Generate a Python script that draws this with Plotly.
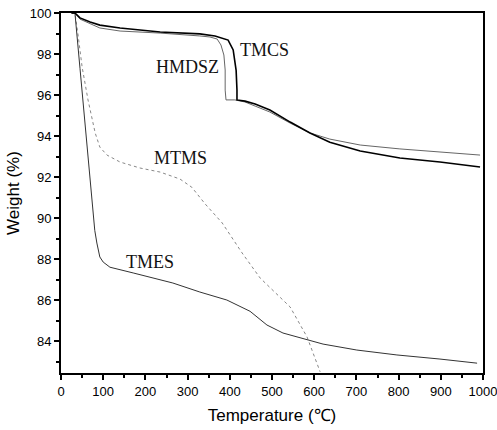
import plotly.graph_objects as go

# Temperature (°C) and weight (%)
tmcs_t = [25, 33, 45, 69, 92, 140, 235, 329, 365, 396, 408, 415, 417, 417, 436, 460, 495, 543, 590, 637, 709, 803, 898, 957, 993]
tmcs_w = [100, 100, 99.76, 99.56, 99.41, 99.27, 99.07, 98.98, 98.88, 98.68, 98.2, 97.2, 96.24, 95.76, 95.7, 95.56, 95.27, 94.68, 94.15, 93.7, 93.27, 92.93, 92.73, 92.59, 92.49]

hmdsz_t = [25, 33, 45, 69, 92, 140, 235, 329, 353, 370, 379, 386, 389, 389, 391, 412, 436, 460, 495, 543, 590, 637, 709, 803, 898, 993]
hmdsz_w = [100, 100, 99.7, 99.46, 99.27, 99.12, 99.02, 98.88, 98.83, 98.73, 98.44, 97.95, 97.22, 96.24, 95.76, 95.76, 95.66, 95.46, 95.17, 94.63, 94.15, 93.85, 93.56, 93.37, 93.22, 93.07]

mtms_t = [25, 33, 40, 50, 64, 81, 92, 109, 140, 187, 235, 282, 310, 341, 382, 429, 472, 502, 543, 583, 597, 614]
mtms_w = [100, 100, 99.0, 97.37, 95.76, 94.15, 93.46, 93.07, 92.73, 92.44, 92.24, 91.9, 91.5, 90.7, 89.76, 88.3, 87.07, 86.49, 85.66, 84.2, 83.4, 82.5]

tmes_t = [25, 33, 45, 57, 70, 76, 80, 85, 92, 100, 116, 171, 211, 265, 329, 393, 448, 488, 526, 583, 621, 701, 796, 898, 986]
tmes_w = [100, 100, 97.3, 94.5, 91.6, 90.2, 89.4, 88.78, 88.1, 87.85, 87.6, 87.32, 87.12, 86.83, 86.39, 86.0, 85.45, 84.78, 84.39, 84.05, 83.85, 83.56, 83.32, 83.12, 82.92]

labels = ["TMCS", "HMDSZ", "MTMS", "TMES"]
label_x = [483, 299, 284, 211]
label_y = [98.2, 97.37, 92.93, 87.85]

x_ticks = [0, 100, 200, 300, 400, 500, 600, 700, 800, 900, 1000]
y_ticks = [84, 86, 88, 90, 92, 94, 96, 98, 100]

fig = go.Figure()
fig.add_trace(go.Scatter(x=hmdsz_t, y=hmdsz_w, mode="lines", line=dict(color="#666666", width=1)))
fig.add_trace(go.Scatter(x=mtms_t, y=mtms_w, mode="lines", line=dict(color="#888888", width=1, dash="dot")))
fig.add_trace(go.Scatter(x=tmes_t, y=tmes_w, mode="lines", line=dict(color="#333333", width=1)))
fig.add_trace(go.Scatter(x=tmcs_t, y=tmcs_w, mode="lines", line=dict(color="#000000", width=1.6)))

for t, xx, yy in zip(labels, label_x, label_y):
    fig.add_annotation(x=xx, y=yy, text=t, showarrow=False,
                       font=dict(family="Liberation Serif", size=18, color="#111111"))

axis_common = dict(showgrid=False, zeroline=False, showline=True, linecolor="black", linewidth=1.8,
                   mirror=True, ticks="outside", ticklen=5, tickwidth=1.5, tickcolor="black",
                   automargin=False, ticklabeloverflow="allow",
                   tickfont=dict(family="Liberation Sans", size=13, color="black"))

fig.update_xaxes(range=[0, 1000], tickvals=x_ticks, ticktext=[str(v) for v in x_ticks],
                 minor=dict(dtick=50, ticks="outside", ticklen=3, tickcolor="black"),
                 title=dict(text="Temperature (℃)", font=dict(family="Liberation Sans", size=17, color="black"), standoff=12),
                 **axis_common)
fig.update_yaxes(range=[82.44, 100], tickvals=y_ticks, ticktext=[str(v) for v in y_ticks],
                 minor=dict(dtick=1, ticks="outside", ticklen=3, tickcolor="black"),
                 title=dict(text="Weight (%)", font=dict(family="Liberation Sans", size=17, color="black"), standoff=6),
                 **axis_common)

fig.update_layout(width=497, height=430, showlegend=False,
                  margin=dict(l=61, r=14, t=13, b=57),
                  plot_bgcolor="white", paper_bgcolor="white")

fig.write_html("out.html", config={"displayModeBar": False},
               post_script="document.body.style.margin='0';document.body.style.overflow='hidden';")
